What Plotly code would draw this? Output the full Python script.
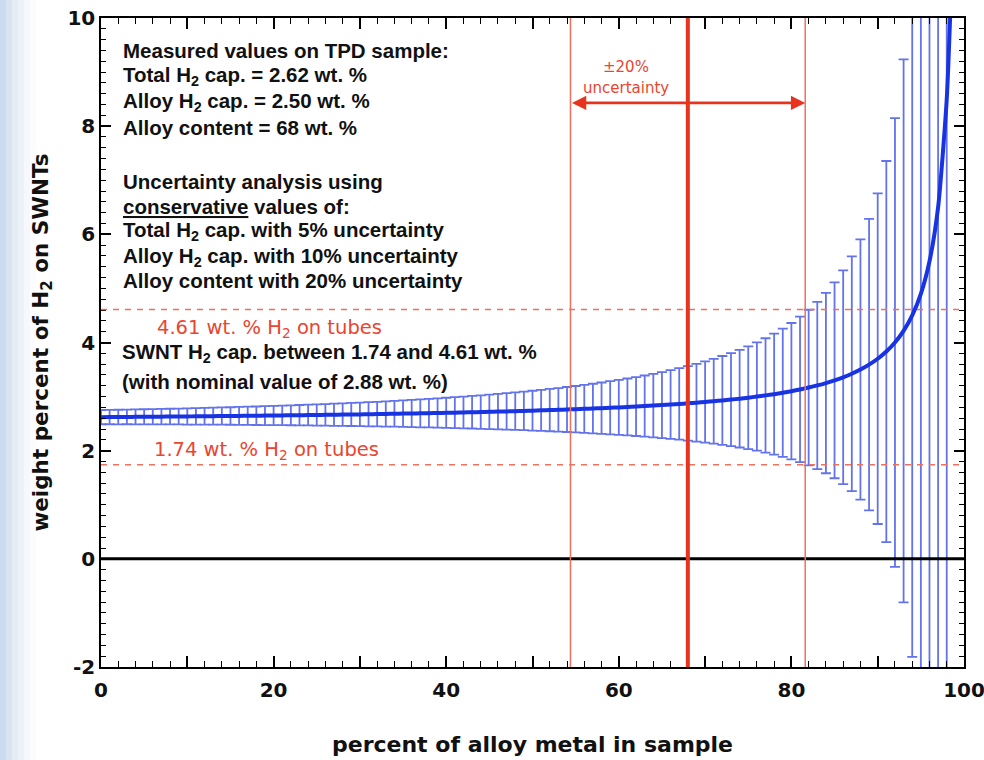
import plotly.graph_objects as go

# ---------------- data ----------------
alloy_pct = list(range(0, 99))
swnt_nominal = [
    2.620, 2.621, 2.622, 2.624, 2.625, 2.626, 2.628, 2.629, 2.630, 2.632,
    2.633, 2.635, 2.636, 2.638, 2.640, 2.641, 2.643, 2.645, 2.646, 2.648,
    2.650, 2.652, 2.654, 2.656, 2.658, 2.660, 2.662, 2.664, 2.667, 2.669,
    2.671, 2.674, 2.676, 2.679, 2.682, 2.685, 2.688, 2.690, 2.694, 2.697,
    2.700, 2.703, 2.707, 2.711, 2.714, 2.718, 2.722, 2.726, 2.731, 2.735,
    2.740, 2.745, 2.750, 2.755, 2.761, 2.767, 2.773, 2.779, 2.786, 2.793,
    2.800, 2.808, 2.816, 2.824, 2.833, 2.843, 2.853, 2.864, 2.875, 2.887,
    2.900, 2.914, 2.929, 2.944, 2.962, 2.980, 3.000, 3.022, 3.045, 3.071,
    3.100, 3.132, 3.167, 3.206, 3.250, 3.300, 3.357, 3.423, 3.500, 3.591,
    3.700, 3.833, 4.000, 4.214, 4.500, 4.900, 5.500, 6.500, 8.500,
]
swnt_err = [
    0.132, 0.133, 0.135, 0.136, 0.138, 0.140, 0.141, 0.143, 0.145, 0.147,
    0.150, 0.152, 0.154, 0.157, 0.159, 0.162, 0.165, 0.168, 0.171, 0.174,
    0.177, 0.181, 0.184, 0.188, 0.192, 0.196, 0.200, 0.204, 0.209, 0.213,
    0.218, 0.223, 0.228, 0.234, 0.239, 0.245, 0.251, 0.258, 0.264, 0.271,
    0.278, 0.286, 0.293, 0.301, 0.310, 0.318, 0.327, 0.337, 0.347, 0.357,
    0.368, 0.379, 0.391, 0.403, 0.416, 0.429, 0.444, 0.458, 0.474, 0.491,
    0.508, 0.526, 0.545, 0.566, 0.588, 0.611, 0.635, 0.661, 0.689, 0.718,
    0.750, 0.784, 0.821, 0.861, 0.903, 0.950, 1.001, 1.057, 1.118, 1.185,
    1.261, 1.345, 1.439, 1.546, 1.668, 1.810, 1.975, 2.171, 2.406, 2.694,
    3.056, 3.523, 4.147, 5.020, 6.314, 8.390, 12.11, 20.01, 42.34,
]
curve_end_x = [98.5]
curve_end_y = [10.5]

alloy_content = 68.0
alloy_low = 54.4
alloy_high = 81.6
upper_limit = 4.61
lower_limit = 1.74

x_tickvals = [0, 10, 20, 30, 40, 50, 60, 70, 80, 90, 100]
x_ticktext = ["0", "", "20", "", "40", "", "60", "", "80", "", "100"]
y_tickvals = [-2, 0, 2, 4, 6, 8, 10]
y_ticktext = ["-2", "0", "2", "4", "6", "8", "10"]

block_lines = [
    "Measured values on TPD sample:",
    "Total H<sub>2</sub> cap. = 2.62 wt. %",
    "Alloy H<sub>2</sub> cap. = 2.50 wt. %",
    "Alloy content = 68 wt. %",
    "Uncertainty analysis using",
    "<u>conservative</u> values of:",
    "Total H<sub>2</sub> cap. with 5% uncertainty",
    "Alloy H<sub>2</sub> cap. with 10% uncertainty",
    "Alloy content with 20% uncertainty",
]
block_y = [9.40, 8.92, 8.44, 7.97, 6.98, 6.51, 6.06, 5.58, 5.14]

RED = "#e8341f"
SALMON = "#f0705e"
TXT_RED = "#e9452f"
BAR_BLUE = "#6273ec"
LINE_BLUE = "#1733e2"

fig = go.Figure()

fig.add_trace(go.Scatter(
    x=alloy_pct, y=swnt_nominal, mode="markers",
    marker=dict(size=2, color="rgba(0,0,0,0)"),
    error_y=dict(type="data", array=swnt_err, visible=True,
                 color=BAR_BLUE, thickness=1.8, width=5),
    hoverinfo="skip", showlegend=False,
))
fig.add_trace(go.Scatter(
    x=alloy_pct + curve_end_x, y=swnt_nominal + curve_end_y, mode="lines",
    line=dict(color=LINE_BLUE, width=4, shape="spline", smoothing=0.6),
    showlegend=False,
))

shapes = []
# light blue slide edge
px = 1.0 / 863.0
for i, a in enumerate([0.85, 0.65, 0.45, 0.3, 0.17, 0.07]):
    shapes.append(dict(type="rect", xref="paper", yref="paper",
                       x0=-0.11703 + i * 6 * px, x1=-0.11703 + (i + 1) * 6 * px,
                       y0=-0.1433, y1=1.0277, line=dict(width=0),
                       fillcolor=f"rgba(196,213,236,{a})", layer="below"))
# zero line
shapes.append(dict(type="line", xref="x", yref="y", x0=0, x1=100, y0=0, y1=0,
                   line=dict(color="black", width=3), layer="above"))
# dashed limits
for yv in (upper_limit, lower_limit):
    shapes.append(dict(type="line", xref="x", yref="y", x0=0, x1=100, y0=yv, y1=yv,
                       line=dict(color=SALMON, width=1.4, dash="6px,6px"), layer="above"))
# alloy-content lines
for xv in (alloy_low, alloy_high):
    shapes.append(dict(type="line", xref="x", yref="paper", x0=xv, x1=xv, y0=0, y1=1,
                       line=dict(color=SALMON, width=1.5), layer="above"))
shapes.append(dict(type="line", xref="x", yref="paper", x0=alloy_content, x1=alloy_content,
                   y0=0, y1=1, line=dict(color=RED, width=4), layer="above"))

block_font = dict(family="Liberation Sans", size=20.5, color="#111111", weight="bold")
annotations = []
for txt, yv in zip(block_lines, block_y):
    annotations.append(dict(x=2.35, y=yv, xref="x", yref="y", text=txt, showarrow=False,
                            xanchor="left", yanchor="middle", font=block_font))
annotations += [
    dict(x=2.25, y=3.80, xref="x", yref="y", showarrow=False, xanchor="left", yanchor="middle",
         text="SWNT H<sub>2</sub> cap. between 1.74 and 4.61 wt. %", font=block_font),
    dict(x=2.25, y=3.27, xref="x", yref="y", showarrow=False, xanchor="left", yanchor="middle",
         text="(with nominal value of 2.88 wt. %)", font=block_font),
    dict(x=6.25, y=4.26, xref="x", yref="y", showarrow=False, xanchor="left", yanchor="middle",
         text="4.61 wt. % H<sub>2</sub> on tubes",
         font=dict(family="DejaVu Sans", size=19.5, color=TXT_RED)),
    dict(x=5.9, y=2.01, xref="x", yref="y", showarrow=False, xanchor="left", yanchor="middle",
         text="1.74 wt. % H<sub>2</sub> on tubes",
         font=dict(family="DejaVu Sans", size=19.5, color=TXT_RED)),
    dict(x=60.8, y=9.09, xref="x", yref="y", showarrow=False, xanchor="center", yanchor="middle",
         text="±20%", font=dict(family="DejaVu Sans", size=15, color=TXT_RED)),
    dict(x=60.8, y=8.71, xref="x", yref="y", showarrow=False, xanchor="center", yanchor="middle",
         text="uncertainty", font=dict(family="DejaVu Sans", size=15, color=TXT_RED)),
    dict(x=alloy_high, y=8.43, ax=alloy_low, ay=8.43, xref="x", yref="y", axref="x", ayref="y",
         text="", showarrow=True, arrowhead=2, arrowside="end+start", arrowsize=1.1,
         arrowwidth=2.6, arrowcolor=RED, standoff=0, startstandoff=0),
]

axis_font = dict(family="DejaVu Sans", size=20, color="#111111", weight="bold")
title_font = dict(family="DejaVu Sans", size=22, color="#111111", weight="bold")

fig.update_layout(
    width=984, height=760,
    margin=dict(l=101, r=20, t=18, b=93),
    paper_bgcolor="white", plot_bgcolor="white",
    shapes=shapes, annotations=annotations,
    xaxis=dict(range=[0, 100], tickmode="array", tickvals=x_tickvals, ticktext=x_ticktext,
               ticks="inside", ticklen=11, tickwidth=1.5, tickcolor="black",
               minor=dict(dtick=2, tick0=0, ticks="inside", ticklen=6, tickwidth=1, tickcolor="black"),
               showline=True, linecolor="black", linewidth=1.5, mirror="allticks",
               showgrid=False, zeroline=False, tickfont=axis_font, ticklabelstandoff=4,
               ticklabeloverflow="allow", automargin=False,
               title=dict(text="percent of alloy metal in sample", font=title_font, standoff=36)),
    yaxis=dict(range=[-2, 10], tickmode="array", tickvals=y_tickvals, ticktext=y_ticktext,
               ticks="inside", ticklen=10, tickwidth=1.5, tickcolor="black",
               minor=dict(dtick=0.2, tick0=0, ticks="inside", ticklen=5, tickwidth=1, tickcolor="black"),
               showline=True, linecolor="black", linewidth=1.5, mirror="allticks",
               showgrid=False, zeroline=False, tickfont=axis_font, ticklabelstandoff=0,
               ticklabeloverflow="allow", automargin=False,
               title=dict(text="weight percent of H<sub>2</sub> on SWNTs",
                          font=dict(family="DejaVu Sans", size=21.5, color="#111111", weight="bold"),
                          standoff=13)),
)

fig.write_html("out.html", config={"displayModeBar": False},
               post_script="document.body.style.margin='0';document.body.style.overflow='hidden';")
